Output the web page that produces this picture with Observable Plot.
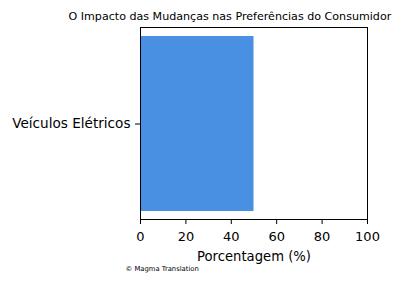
<!DOCTYPE html>
<html>
<head>
<meta charset="utf-8">
<script src="https://cdn.jsdelivr.net/npm/d3@7"></script>
<script src="https://cdn.jsdelivr.net/npm/@observablehq/plot@0.6"></script>
<style>
  html, body { margin: 0; padding: 0; background: #fff; }
  svg { font-family: "DejaVu Sans", sans-serif; }
</style>
</head>
<body>
<div id="chart"></div>
<script>
const categories = ["Veículos Elétricos"];
const values = [50];
const xTicks = [0, 20, 40, 60, 80, 100];
const title = "O Impacto das Mudanças nas Preferências do Consumidor";
const xLabel = "Porcentagem (%)";
const caption = "© Magma Translation";

const data = categories.map((c, i) => ({category: c, value: values[i]}));

const chart = Plot.plot({
  width: 403,
  height: 282,
  marginTop: 27,
  marginLeft: 140,
  marginRight: 36,
  marginBottom: 63,
  style: {fontFamily: "DejaVu Sans, sans-serif", fontSize: "13px", color: "#000", background: "#fff"},
  x: {domain: [0, 100], ticks: xTicks, label: null},
  y: {domain: categories, padding: 0.045, label: null},
  marks: [
    Plot.barX(data, {x: "value", y: "category", fill: "#4a90e2"}),
    Plot.frame({stroke: "#000", strokeWidth: 1}),
    Plot.axisX({ticks: xTicks, tickSize: 5, tickPadding: 7.5, fontSize: 13, label: null, stroke: "#000"}),
    Plot.axisY({tickSize: 5, tickPadding: 5, fontSize: 13.6, label: null, stroke: "#000"}),
    Plot.text([xLabel], {frameAnchor: "bottom", dy: 37, fontSize: 13.2, lineAnchor: "middle", text: d => d}),
    Plot.text([title], {frameAnchor: "top-left", dx: -72, dy: -11, fontSize: 11.1, textAnchor: "start", lineAnchor: "middle", text: d => d}),
    Plot.text([caption], {frameAnchor: "bottom-left", dx: -15, dy: 49, fontSize: 6.8, textAnchor: "start", lineAnchor: "middle", text: d => d})
  ]
});
document.getElementById("chart").appendChild(chart);
</script>
</body>
</html>
